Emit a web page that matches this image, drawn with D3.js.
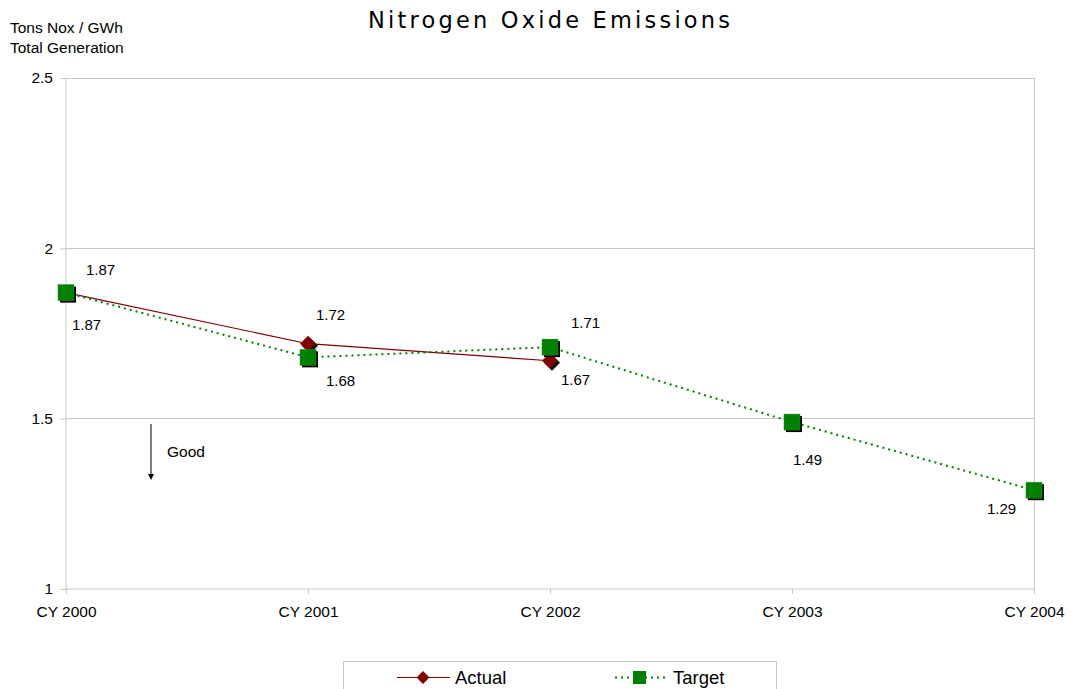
<!DOCTYPE html>
<html><head><meta charset="utf-8">
<script src="https://cdn.jsdelivr.net/npm/d3@7"></script>
<style>body{margin:0;background:#fff}svg{display:block;font-family:"Liberation Sans",Arial,sans-serif}</style>
</head><body>
<svg id="c" width="1071" height="689"></svg>
<script>
const categories = ["CY 2000","CY 2001","CY 2002","CY 2003","CY 2004"];
const actualValues = [1.87, 1.72, 1.67];
const targetValues = [1.87, 1.68, 1.71, 1.49, 1.29];
const yTicks = [1, 1.5, 2, 2.5];
const yTickLabels = ["1","1.5","2","2.5"];
// label offsets (px) relative to each point
const actualLabelOffsets = [[20,-23],[8,-29],[11,19]];
const targetLabelOffsets = [[6,32],[18,23],[21,-24],[1,38],[-47,19]];

const svg = d3.select("#c");
const FF = "Liberation Sans, Arial, sans-serif";
const L = 66, R = 1034, T = 78, B = 589;
const x = d3.scalePoint().domain(categories).range([L, R]);
const y = d3.scaleLinear().domain([1, 2.5]).range([B, T]);

// gridlines
svg.append("g").selectAll("line").data(yTicks.slice(1)).join("line")
  .attr("x1", L).attr("x2", R).attr("y1", d => y(d)).attr("y2", d => y(d))
  .attr("stroke", "#c8c8c8").attr("stroke-width", 1).attr("shape-rendering","crispEdges");
// right border
svg.append("line").attr("x1", R).attr("x2", R).attr("y1", T).attr("y2", B)
  .attr("stroke", "#c8c8c8").attr("shape-rendering","crispEdges");

// y axis
const yAxis = svg.append("g").attr("transform", `translate(${L},0)`)
  .call(d3.axisLeft(y).tickValues(yTicks).tickFormat((d,i) => yTickLabels[i]).tickSize(6).tickPadding(7));
yAxis.select(".domain").attr("stroke", "#c8c8c8").attr("d", `M0,${T}V${B}`);
yAxis.selectAll(".tick line").attr("stroke", "#c8c8c8");
yAxis.selectAll("text").attr("font-size", 15.5).attr("fill", "#000").attr("font-family", FF);

// x axis
const xAxis = svg.append("g").attr("transform", `translate(0,${B})`)
  .call(d3.axisBottom(x).tickSize(5).tickPadding(12));
xAxis.select(".domain").attr("stroke", "#c8c8c8").attr("d", `M${L},0H${R}`);
xAxis.selectAll(".tick line").attr("stroke", "#c8c8c8");
xAxis.selectAll("text").attr("font-size", 15.5).attr("fill", "#000").attr("font-family", FF);

// lines
const line = d3.line().x((d,i) => x(categories[i])).y(d => y(d));
svg.append("path").datum(actualValues).attr("d", line)
  .attr("fill","none").attr("stroke","#800000").attr("stroke-width",1.2);
svg.append("path").datum(targetValues).attr("d", line)
  .attr("fill","none").attr("stroke","#008000").attr("stroke-width",2).attr("stroke-dasharray","2,4");

// markers: actual diamonds
const dia = (cx, cy, r) => `M${cx},${cy-r}L${cx+r},${cy}L${cx},${cy+r}L${cx-r},${cy}Z`;
const ag = svg.append("g");
ag.selectAll("path.sh").data(actualValues).join("path").attr("class","sh")
  .attr("d", (d,i) => dia(x(categories[i])+2, y(d)+2, 8)).attr("fill","#000");
ag.selectAll("path.mk").data(actualValues).join("path").attr("class","mk")
  .attr("d", (d,i) => dia(x(categories[i]), y(d), 8)).attr("fill","#800000");

// target squares
const s = 16;
const tg = svg.append("g");
tg.selectAll("rect.sh").data(targetValues).join("rect").attr("class","sh")
  .attr("x",(d,i)=>x(categories[i])-s/2+2).attr("y",d=>y(d)-s/2+2).attr("width",s).attr("height",s).attr("fill","#000");
tg.selectAll("rect.mk").data(targetValues).join("rect").attr("class","mk")
  .attr("x",(d,i)=>x(categories[i])-s/2).attr("y",d=>y(d)-s/2).attr("width",s).attr("height",s)
  .attr("fill","#008000").attr("stroke","#2a8a2a").attr("stroke-width",0.5);

// labels
svg.append("g").selectAll("text").data(actualValues).join("text")
  .attr("x",(d,i)=>x(categories[i])+actualLabelOffsets[i][0])
  .attr("y",(d,i)=>y(d)+actualLabelOffsets[i][1]).attr("dy","0.35em")
  .attr("font-size",15).attr("fill","#000").text(d=>d3.format(".2f")(d));
svg.append("g").selectAll("text").data(targetValues).join("text")
  .attr("x",(d,i)=>x(categories[i])+targetLabelOffsets[i][0])
  .attr("y",(d,i)=>y(d)+targetLabelOffsets[i][1]).attr("dy","0.35em")
  .attr("font-size",15).attr("fill","#000").text(d=>d3.format(".2f")(d));

// title
svg.append("text").attr("x",368).attr("y",28)
  .attr("font-family","DejaVu Sans, Verdana, sans-serif")
  .attr("font-size",22.5).attr("textLength",362).attr("lengthAdjust","spacing")
  .attr("fill","#000").text("Nitrogen Oxide Emissions");
// y title
svg.append("text").attr("x",10).attr("y",33).attr("font-size",15.5).attr("fill","#000").text("Tons Nox / GWh");
svg.append("text").attr("x",10).attr("y",53).attr("font-size",15.5).attr("fill","#000").text("Total Generation");

// Good arrow
svg.append("line").attr("x1",151).attr("x2",151).attr("y1",424).attr("y2",474).attr("stroke","#000").attr("stroke-width",1);
svg.append("path").attr("d","M148,474L154,474L151,480Z").attr("fill","#000");
svg.append("text").attr("x",167).attr("y",457).attr("font-size",15.5).attr("fill","#000").text("Good");

// legend
svg.append("rect").attr("x",343.5).attr("y",661.5).attr("width",433).attr("height",40)
  .attr("fill","#fff").attr("stroke","#c8c8c8");
const lg = svg.append("g");
lg.append("line").attr("x1",397).attr("x2",450).attr("y1",677.5).attr("y2",677.5).attr("stroke","#800000").attr("stroke-width",1.2);
lg.append("path").attr("d",dia(423,677.5,6.5)).attr("fill","#800000");
lg.append("text").attr("x",455).attr("y",684).attr("font-size",18.5).attr("fill","#000").text("Actual");
lg.append("line").attr("x1",615).attr("x2",668).attr("y1",677.5).attr("y2",677.5).attr("stroke","#008000").attr("stroke-width",2).attr("stroke-dasharray","2,4");
lg.append("rect").attr("x",633).attr("y",671).attr("width",13).attr("height",13).attr("fill","#008000");
lg.append("text").attr("x",673).attr("y",684).attr("font-size",18.5).attr("fill","#000").text("Target");
</script>
</body></html>
